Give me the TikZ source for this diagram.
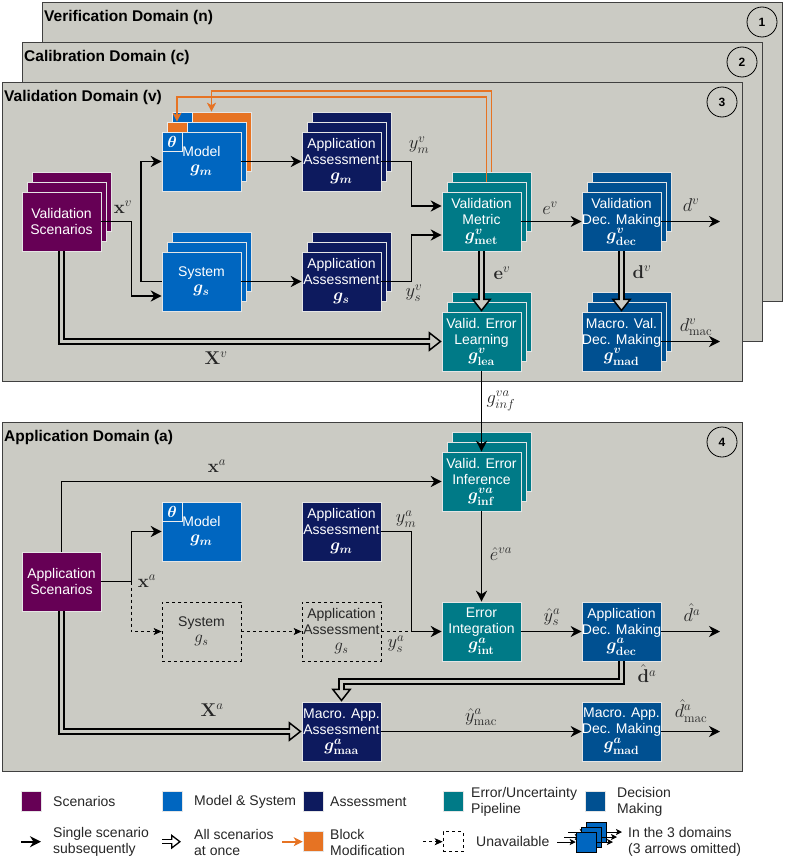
\RequirePackage{fix-cm}
\documentclass[tikz,border=0pt]{standalone}
\usepackage[no-math]{fontspec}
\setmainfont{Liberation Sans}
\usepackage{amsmath}
\usepackage{bm}
\usepackage{tikz}
\usetikzlibrary{arrows.meta,positioning,shadows,calc}

\definecolor{bgc}{RGB}{203,203,196}
\definecolor{framec}{RGB}{64,64,64}
\definecolor{scenc}{RGB}{102,0,85}
\definecolor{modc}{RGB}{0,102,192}
\definecolor{assc}{RGB}{13,26,94}
\definecolor{errc}{RGB}{0,122,135}
\definecolor{decc}{RGB}{0,80,145}
\definecolor{orngc}{RGB}{230,115,35}
\definecolor{txtc}{RGB}{38,38,38}

\newcommand{\gbox}[1]{{\fontsize{17}{18}\selectfont$#1$}}

\begin{document}
\begin{tikzpicture}[x=1pt,y=-1pt,node distance=140pt,line join=miter,
    blk/.style={rectangle,minimum width=79pt,minimum height=59pt,inner sep=0pt,draw=white!80!gray,line width=0.6pt,text=white,align=center,font=\fontsize{14}{16}\selectfont},
    stk/.style={copy shadow={shadow xshift=10pt,shadow yshift=20pt},copy shadow={shadow xshift=5pt,shadow yshift=10pt}},
    scen/.style={blk,fill=scenc},
    modl/.style={blk,fill=modc},
    asmt/.style={blk,fill=assc},
    errp/.style={blk,fill=errc},
    decm/.style={blk,fill=decc},
    nablk/.style={blk,draw=black,dashed,line width=0.7pt,fill=none,text=txtc},
    thb/.style={rectangle,minimum width=20pt,minimum height=19pt,inner sep=0pt,fill=modc,draw=white!85!gray,line width=0.6pt,text=white,font=\fontsize{16}{16}\selectfont},
    frame/.style={draw=framec,fill=bgc,line width=0.9pt},
    ttl/.style={anchor=west,inner sep=0pt,font=\bfseries\fontsize{15.5}{18}\selectfont,text=black},
    numc/.style={circle,draw=black,line width=0.8pt,minimum size=30pt,inner sep=0pt,font=\bfseries\fontsize{12}{12}\selectfont},
    lbl/.style={inner sep=0pt,text=black!85,font=\fontsize{18.5}{22}\selectfont},
    arr/.style={draw=black,line width=1.6pt,-{Stealth[length=11pt,width=11pt,inset=3.5pt]}},
    sarr/.style={draw=black,line width=0.9pt,-{Stealth[length=6pt,width=6pt,inset=1.5pt]}},
    darr/.style={draw=black,line width=0.8pt,dash pattern=on 3pt off 3pt,-{Stealth[length=8pt,width=7pt,inset=2pt]}},
    oarr/.style={draw=orngc,line width=1.6pt,-{Stealth[length=9pt,width=9pt,inset=2.5pt]}},
    farr/.style={draw=black,line width=7pt,-{Triangle[length=13pt,width=20pt,line width=1.5pt 0 0,fill=bgc]},postaction={draw=bgc,line width=3.6pt,-,shorten >=10pt}},
    farrs/.style={draw=black,line width=5.5pt,-{Triangle[length=10pt,width=15pt,line width=1.3pt 0 0,fill=white]},postaction={draw=white,line width=2.6pt,-,shorten >=7.5pt}},
    lgsq/.style={rectangle,minimum size=20pt,inner sep=0pt,draw=white!80!gray,line width=0.6pt},
    lgtxt/.style={anchor=west,align=left,inner sep=0pt,text=txtc,font=\fontsize{14}{16}\selectfont}]
    \useasboundingbox (0,0) rectangle (790,859);

    % domain frames
    \draw[frame] (42,2) rectangle (782,301);
    \node[ttl] (tn) at (44,17) {Verification Domain (n)};
    \node[numc] (c1) at (762,22) {1};
    \draw[frame] (22,42) rectangle (762,341);
    \node[ttl] (tc) at (24,57) {Calibration Domain (c)};
    \node[numc] (c2) at (742,62) {2};
    \draw[frame] (2,82) rectangle (742,381);
    \node[ttl] (tv) at (4,97) {Validation Domain (v)};
    \node[numc] (c3) at (722,102) {3};
    \draw[frame] (2,422) rectangle (742,771);
    \node[ttl] (ta) at (4,437) {Application Domain (a)};
    \node[numc] (c4) at (722,442) {4};

    % validation domain blocks
    \node[scen,stk] (sv) at (61.5,221.5) {Validation\\Scenarios};
    \node[modl,fill=orngc] (mod3) at (211.5,141.5) {};
    \node[thb,anchor=north west] (th3) at (mod3.north west) {};
    \node[modl] (mod2) at (206.5,151.5) {};
    \node[thb,fill=orngc,anchor=north west] (th2) at (mod2.north west) {};
    \node[modl] (mod) at (201.5,161.5) {Model\\\gbox{\bm{g_m}}};
    \node[thb,anchor=north west] (th) at (mod.north west) {$\bm{\theta}$};
    \node[asmt,stk] (aam) [right of=mod] {Application\\Assessment\\\gbox{\bm{g_m}}};
    \node[modl,stk] (sys) at (201.5,281.5) {System\\\gbox{\bm{g_s}}};
    \node[asmt,stk] (aas) [right of=sys] {Application\\Assessment\\\gbox{\bm{g_s}}};
    \node[errp,stk] (met) at (481.5,221.5) {Validation\\Metric\\\gbox{\bm{g}^{\bm{v}}_{\mathbf{met}}}};
    \node[decm,stk] (dec) [right of=met] {Validation\\Dec. Making\\\gbox{\bm{g}^{\bm{v}}_{\mathbf{dec}}}};
    \node[errp,stk] (lea) at (481.5,341.5) {Valid. Error\\Learning\\\gbox{\bm{g}^{\bm{v}}_{\mathbf{lea}}}};
    \node[decm,stk] (mvd) [right of=lea] {Macro. Val.\\Dec. Making\\\gbox{\bm{g}^{\bm{v}}_{\mathbf{mad}}}};
    \coordinate (dvo) at (720,221.5);
    \coordinate (dmvo) at (720,341.5);

    % application domain blocks
    \node[errp,stk] (inf) at (481.5,481.5) {Valid. Error\\Inference\\\gbox{\bm{g}^{\bm{va}}_{\mathbf{inf}}}};
    \node[scen] (sa) at (61.5,581.5) {Application\\Scenarios};
    \node[modl] (ma) at (201.5,531.5) {Model\\\gbox{\bm{g_m}}};
    \node[thb,anchor=north west] (tha) at (ma.north west) {$\bm{\theta}$};
    \node[asmt] (ama) [right of=ma] {Application\\Assessment\\\gbox{\bm{g_m}}};
    \node[nablk] (sysa) at (201.5,631.5) {System\\\gbox{g_s}};
    \node[nablk] (aasa) [right of=sysa] {Application\\Assessment\\\gbox{g_s}};
    \node[errp] (int) [right of=aasa] {Error\\Integration\\\gbox{\bm{g}^{\bm{a}}_{\mathbf{int}}}};
    \node[decm] (ad) [right of=int] {Application\\Dec. Making\\\gbox{\bm{g}^{\bm{a}}_{\mathbf{dec}}}};
    \node[asmt] (maa) at (341.5,731.5) {Macro. App.\\Assessment\\\gbox{\bm{g}^{\bm{a}}_{\mathbf{maa}}}};
    \node[decm] (mad) at (621.5,731.5) {Macro. App.\\Dec. Making\\\gbox{\bm{g}^{\bm{a}}_{\mathbf{mad}}}};
    \coordinate (xa) at ($(sa.east)+(30,0)$);
    \coordinate (ysj) at ($(aasa.east)+(30,0)$);
    \coordinate (dao) at (720,631.5);
    \coordinate (dmao) at (720,731.5);

    % validation connectors
    \draw[arr] (sv.east) -- ++(30,0) |- ([yshift=-14.5pt]sys.west);
    \draw[arr] (sys.west) -- ++(-21,0) |- (mod.west);
    \draw[arr] (mod.east) -- (aam.west);
    \draw[arr] (sys.east) -- (aas.west);
    \draw[arr] (aam.east) -- ++(30,0) |- ([yshift=15.5pt]met.west);
    \draw[arr] (aas.east) -- ++(30,0) |- ([yshift=-13.5pt]met.west);
    \draw[arr] (met.east) -- (dec.west);
    \draw[arr] (dec.east) -- (dvo);
    \draw[arr] (mvd.east) -- (dmvo);
    \draw[farr] (sv.south) |- (lea.west);
    \draw[farr] (met.south) -- (lea.north);
    \draw[farr] (dec.south) -- (mvd.north);
    \draw[oarr] ([shift={(5,-10)}]met.north) -- ++(0,-85) -| (th2.north);
    \draw[oarr] ([shift={(10,-20)}]met.north) -- ++(0,-81) -| (mod3.north);

    % application connectors
    \draw[arr] (lea.south) -- (inf.north);
    \draw[arr] (sa.north) |- (inf.west);
    \draw[arr] (sa.east) -- (xa) |- (ma.west);
    \draw[darr] (xa) |- (sysa.west);
    \draw[darr] (sysa.east) -- (aasa.west);
    \draw[darr,-] (aasa.east) -- (ysj);
    \draw[arr] (ama.east) -- ++(30,0) |- (int.west);
    \draw[arr] (inf.south) -- (int.north);
    \draw[arr] (int.east) -- (ad.west);
    \draw[arr] (ad.east) -- (dao);
    \draw[farr] (ad.south) -- ++(0,20) -| (maa.north);
    \draw[farr] (sa.south) |- (maa.west);
    \draw[arr] (maa.east) -- (mad.west);
    \draw[arr] (mad.east) -- (dmao);

    % labels
    \node[lbl] (lxv) at (123,207) {$\mathbf{x}^v$};
    \node[lbl] (lXv) at (216,358) {$\mathbf{X}^v$};
    \node[lbl] (lymv) at (419,145) {$y_m^v$};
    \node[lbl] (lysv) at (414,293) {$y_s^v$};
    \node[lbl] (lev) at (550,208) {$e^v$};
    \node[lbl] (ldv) at (691,205) {$d^v$};
    \node[lbl] (lbev) at (502,273) {$\mathbf{e}^v$};
    \node[lbl] (lbdv) at (642,272) {$\mathbf{d}^v$};
    \node[lbl] (ldmv) at (696,327) {$d^v_{\mathrm{mac}}$};
    \node[lbl] (lginf) at (501,401) {$g^{va}_{inf}$};
    \node[lbl] (lxat) at (217,466) {$\mathbf{x}^a$};
    \node[lbl] (lxam) at (147,581) {$\mathbf{x}^a$};
    \node[lbl] (lXa) at (212,710) {$\mathbf{X}^a$};
    \node[lbl] (lyma) at (406,519) {$y_m^a$};
    \node[lbl] (lysa) at (396,644) {$y_s^a$};
    \node[lbl] (leva) at (501,554) {$\hat{e}^{va}$};
    \node[lbl] (lysh) at (552,617) {$\hat{y}_s^a$};
    \node[lbl] (ldah) at (692,613) {$\hat{d}^a$};
    \node[lbl] (lbda) at (647,674) {$\hat{\mathbf{d}}^a$};
    \node[lbl] (lymac) at (481,717) {$\hat{y}^a_{\mathrm{mac}}$};
    \node[lbl] (ldmac) at (691,711) {$\hat{d}^a_{\mathrm{mac}}$};

    % legend
    \node[lgsq,fill=scenc] (lsc) at (31.5,801.7) {};
    \node[lgtxt] (tsc) at (53,801.7) {Scenarios};
    \node[lgsq,fill=modc] (lmo) at (172,801.7) {};
    \node[lgtxt] (tmo) at (194,801.7) {Model \& System};
    \node[lgsq,fill=assc] (las) at (313,801.7) {};
    \node[lgtxt] (tas) at (330,801.7) {Assessment};
    \node[lgsq,fill=errc] (ler) at (453,801.7) {};
    \node[lgtxt] (ter) at (471,801.7) {Error/Uncertainty\\Pipeline};
    \node[lgsq,fill=decc] (lde) at (595,801.7) {};
    \node[lgtxt] (tde) at (617,801.7) {Decision\\Making};

    \coordinate (la1) at (21,841.7);
    \coordinate (la2) at (41,841.7);
    \draw[arr] (la1) -- (la2);
    \node[lgtxt] (tsi) at (53,842) {Single scenario\\subsequently};
    \coordinate (lf1) at (162,841.7);
    \coordinate (lf2) at (181,841.7);
    \draw[farrs] (lf1) -- (lf2);
    \node[lgtxt] (tal) at (194,842) {All scenarios\\at once};
    \node[lgsq,fill=orngc] (lor) at (313,841.7) {};
    \coordinate (lo1) at (282,841.7);
    \draw[oarr] (lo1) -- (lor.west);
    \node[lgtxt] (tbl) at (330,842) {Block\\Modification};
    \node[lgsq,draw=black,dashed,fill=none] (lun) at (453,841.7) {};
    \coordinate (lu1) at (423,841.7);
    \draw[darr] (lu1) -- (lun.west);
    \node[lgtxt] (tun) at (476,841.7) {Unavailable};

    \node[lgsq,fill=modc,draw=black,line width=0.5pt] (ic3) at (596,832) {};
    \coordinate (ii3) at (568,832);
    \coordinate (io3) at (622,832);
    \draw[sarr] (ii3) -- (ic3.west);
    \draw[sarr] (ic3.east) -- (io3);
    \node[lgsq,fill=modc,draw=black,line width=0.5pt] (ic2) at (591,837) {};
    \coordinate (ii2) at (564,837);
    \coordinate (io2) at (617,837);
    \draw[sarr] (ii2) -- (ic2.west);
    \draw[sarr] (ic2.east) -- (io2);
    \node[lgsq,fill=modc,draw=black,line width=0.5pt] (ic1) at (586,842) {};
    \coordinate (ii1) at (557,842);
    \coordinate (io1) at (613,842);
    \draw[sarr] (ii1) -- (ic1.west);
    \draw[sarr] (ic1.east) -- (io1);
    \node[lgtxt] (tdo) at (628,842) {In the 3 domains\\(3 arrows omitted)};
  \end{tikzpicture}
\end{document}
